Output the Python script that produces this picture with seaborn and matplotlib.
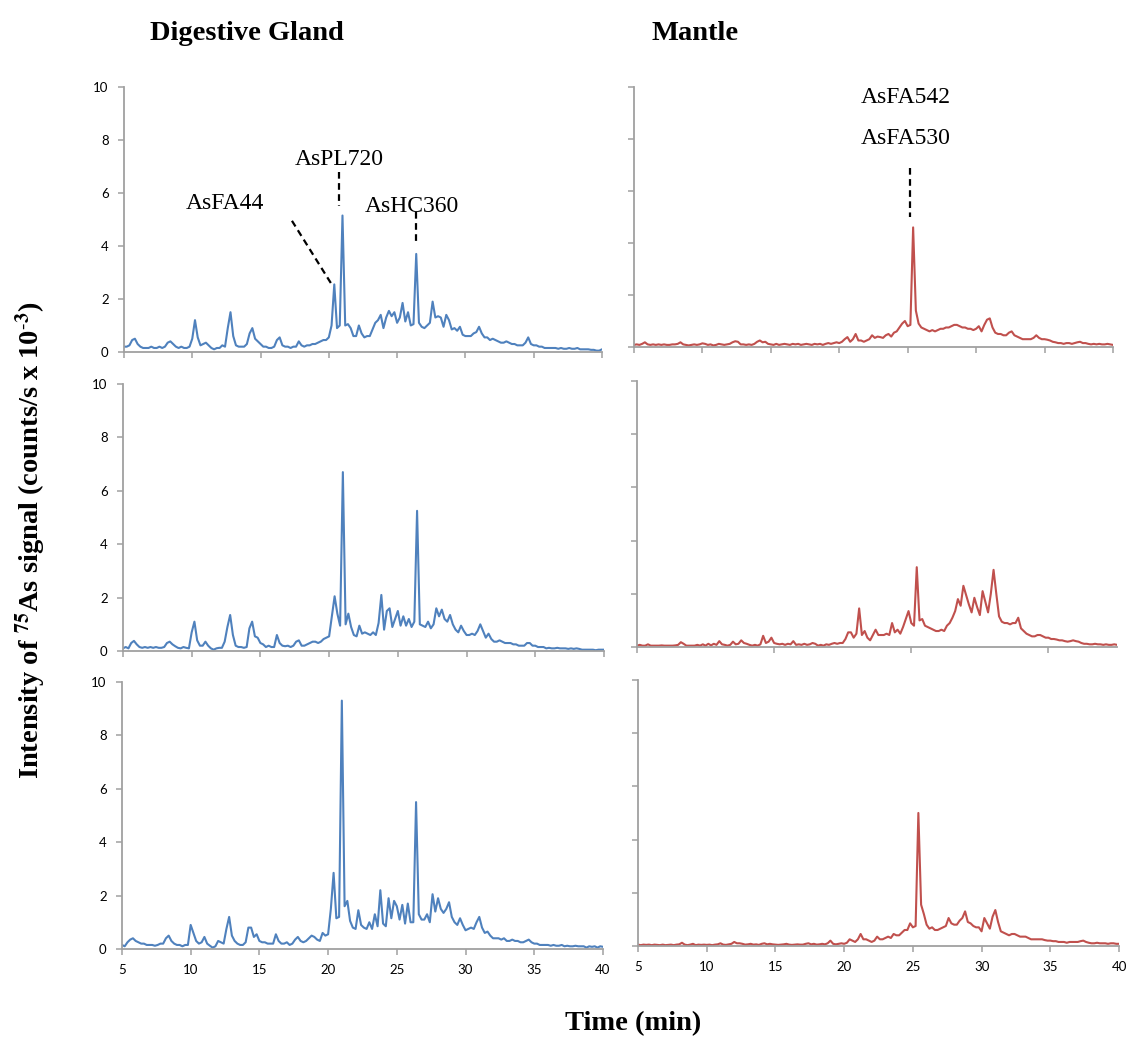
import numpy as np
import matplotlib
matplotlib.use('Agg')
import matplotlib.pyplot as plt
import seaborn as sns

######################################
### Data (0.2 min steps from 5 to 40 min)

rt = np.round(np.arange(5, 40.01, 0.2), 1)

# Digestive gland, replicate 1-3 (x 10^3 counts/s)
dg1 = [0.2, 0.2, 0.25, 0.45, 0.5, 0.3, 0.2, 0.15, 0.15, 0.15,         # 5
       0.2, 0.15, 0.15, 0.2, 0.15, 0.2, 0.35, 0.4, 0.3, 0.2,          # 7
       0.15, 0.2, 0.15, 0.15, 0.2, 0.5, 1.2, 0.55, 0.25, 0.3,         # 9
       0.35, 0.25, 0.15, 0.1, 0.15, 0.15, 0.25, 0.2, 0.9, 1.5,        # 11
       0.6, 0.25, 0.2, 0.2, 0.2, 0.3, 0.7, 0.9, 0.5, 0.4,             # 13
       0.3, 0.2, 0.2, 0.15, 0.15, 0.2, 0.45, 0.55, 0.25, 0.2,         # 15
       0.2, 0.15, 0.2, 0.2, 0.4, 0.25, 0.2, 0.25, 0.25, 0.3,          # 17
       0.3, 0.35, 0.4, 0.45, 0.45, 0.55, 1.0, 2.55, 0.9, 1.0,         # 19
       5.15, 1.0, 1.05, 0.9, 0.6, 0.6, 1.0, 0.7, 0.55, 0.6,           # 21
       0.6, 0.85, 1.1, 1.2, 1.4, 0.9, 1.3, 1.55, 1.35, 1.5,           # 23
       1.1, 1.3, 1.85, 1.15, 1.5, 1.0, 1.05, 3.7, 1.1, 0.95,          # 25
       0.9, 1.0, 1.1, 1.9, 1.3, 1.35, 1.3, 0.95, 1.4, 1.2,            # 27
       0.85, 0.9, 0.8, 0.95, 0.65, 0.6, 0.6, 0.6, 0.7, 0.75,          # 29
       0.95, 0.7, 0.55, 0.55, 0.45, 0.5, 0.45, 0.4, 0.35, 0.35,       # 31
       0.4, 0.35, 0.3, 0.3, 0.25, 0.25, 0.25, 0.35, 0.55, 0.3,        # 33
       0.25, 0.25, 0.2, 0.2, 0.15, 0.15, 0.15, 0.15, 0.15, 0.12,      # 35
       0.15, 0.12, 0.12, 0.15, 0.12, 0.12, 0.15, 0.1, 0.1, 0.1,       # 37
       0.1, 0.08, 0.08, 0.05, 0.05, 0.1]                              # 39

dg2 = [0.1, 0.15, 0.1, 0.3, 0.38, 0.25, 0.15, 0.12, 0.15, 0.12,
       0.15, 0.12, 0.15, 0.12, 0.12, 0.15, 0.3, 0.35, 0.25, 0.18,
       0.12, 0.1, 0.15, 0.12, 0.1, 0.7, 1.1, 0.4, 0.2, 0.2,
       0.35, 0.2, 0.1, 0.05, 0.1, 0.12, 0.12, 0.35, 0.9, 1.35,
       0.6, 0.2, 0.15, 0.15, 0.12, 0.15, 0.85, 1.1, 0.55, 0.5,
       0.3, 0.25, 0.15, 0.2, 0.15, 0.15, 0.6, 0.3, 0.2, 0.18,
       0.2, 0.15, 0.2, 0.35, 0.4, 0.2, 0.2, 0.25, 0.3, 0.35,
       0.35, 0.3, 0.35, 0.45, 0.5, 0.55, 1.3, 2.05, 1.4, 0.95,
       6.7, 1.0, 1.4, 0.9, 0.6, 0.55, 0.95, 0.65, 0.7, 0.65,
       0.6, 0.7, 0.6, 1.05, 2.1, 0.8, 1.5, 1.6, 0.9, 1.2,
       1.5, 0.95, 1.3, 0.95, 1.2, 0.9, 1.1, 5.25, 1.0, 0.95,
       0.9, 1.1, 0.85, 1.0, 1.6, 1.3, 1.55, 1.2, 1.1, 1.35,
       1.0, 0.8, 0.7, 0.95, 0.75, 0.6, 0.6, 0.65, 0.6, 0.75,
       1.0, 0.75, 0.5, 0.65, 0.45, 0.35, 0.35, 0.4, 0.35, 0.3,
       0.3, 0.3, 0.25, 0.25, 0.2, 0.2, 0.2, 0.3, 0.3, 0.2,
       0.2, 0.15, 0.15, 0.15, 0.1, 0.12, 0.1, 0.1, 0.12, 0.1,
       0.1, 0.1, 0.08, 0.1, 0.08, 0.1, 0.08, 0.05, 0.05, 0.05,
       0.05, 0.05, 0.03, 0.05, 0.05, 0.05]

dg3 = [0.15, 0.1, 0.25, 0.35, 0.4, 0.3, 0.25, 0.2, 0.2, 0.15,
       0.15, 0.15, 0.12, 0.15, 0.2, 0.2, 0.4, 0.5, 0.3, 0.2,
       0.15, 0.15, 0.1, 0.15, 0.15, 0.9, 0.6, 0.3, 0.2, 0.25,
       0.45, 0.2, 0.12, 0.05, 0.1, 0.3, 0.25, 0.2, 0.75, 1.2,
       0.5, 0.3, 0.2, 0.15, 0.15, 0.25, 0.8, 0.8, 0.45, 0.55,
       0.3, 0.25, 0.25, 0.2, 0.2, 0.2, 0.55, 0.3, 0.2, 0.2,
       0.25, 0.15, 0.2, 0.35, 0.45, 0.3, 0.25, 0.3, 0.4, 0.5,
       0.45, 0.35, 0.3, 0.6, 0.5, 0.55, 1.5, 2.85, 1.15, 1.2,
       9.3, 1.6, 1.8, 1.05, 0.8, 0.75, 1.45, 0.9, 0.8, 0.75,
       1.0, 0.75, 1.3, 0.85, 2.2, 0.95, 0.85, 1.9, 1.15, 1.8,
       1.6, 1.1, 1.65, 0.95, 1.7, 1.0, 1.0, 5.5, 1.3, 1.1,
       1.1, 1.3, 1.0, 2.05, 1.4, 1.9, 1.5, 1.35, 1.5, 1.75,
       1.2, 1.0, 0.9, 1.15, 0.9, 0.7, 0.75, 0.8, 0.75, 1.0,
       1.2, 0.8, 0.6, 0.65, 0.5, 0.4, 0.4, 0.4, 0.35, 0.4,
       0.3, 0.3, 0.35, 0.3, 0.3, 0.25, 0.25, 0.3, 0.35, 0.25,
       0.2, 0.2, 0.15, 0.15, 0.15, 0.15, 0.12, 0.15, 0.12, 0.12,
       0.15, 0.1, 0.12, 0.1, 0.1, 0.12, 0.1, 0.1, 0.1, 0.05,
       0.1, 0.08, 0.1, 0.05, 0.1, 0.08]

# Mantle, replicate 1-3
mt1 = [0.08, 0.1, 0.08, 0.12, 0.18, 0.1, 0.08, 0.1, 0.08, 0.1,
       0.08, 0.1, 0.08, 0.08, 0.1, 0.1, 0.12, 0.18, 0.1, 0.08,
       0.06, 0.08, 0.1, 0.08, 0.1, 0.14, 0.12, 0.08, 0.1, 0.06,
       0.08, 0.12, 0.1, 0.08, 0.1, 0.12, 0.18, 0.22, 0.2, 0.1,
       0.1, 0.08, 0.1, 0.08, 0.12, 0.2, 0.25, 0.18, 0.2, 0.12,
       0.1, 0.08, 0.12, 0.08, 0.1, 0.12, 0.1, 0.08, 0.12, 0.1,
       0.12, 0.08, 0.1, 0.12, 0.1, 0.08, 0.12, 0.1, 0.12, 0.08,
       0.12, 0.15, 0.12, 0.15, 0.18, 0.15, 0.2, 0.3, 0.38, 0.2,
       0.3, 0.5, 0.25, 0.25, 0.2, 0.25, 0.3, 0.45, 0.35, 0.4,
       0.38, 0.35, 0.45, 0.5, 0.4, 0.55, 0.6, 0.75, 0.9, 1.0,
       0.8, 0.85, 4.6, 1.4, 0.9, 0.75, 0.7, 0.65, 0.6, 0.65,
       0.6, 0.65, 0.7, 0.7, 0.75, 0.75, 0.8, 0.85, 0.85, 0.8,
       0.75, 0.75, 0.7, 0.7, 0.65, 0.7, 0.8, 0.6, 0.85, 1.05,
       1.1, 0.75, 0.55, 0.5, 0.5, 0.45, 0.45, 0.55, 0.6, 0.45,
       0.4, 0.35, 0.3, 0.3, 0.3, 0.3, 0.35, 0.45, 0.35, 0.3,
       0.3, 0.28, 0.25, 0.2, 0.18, 0.15, 0.15, 0.12, 0.15, 0.15,
       0.12, 0.15, 0.18, 0.2, 0.15, 0.15, 0.12, 0.1, 0.12, 0.1,
       0.12, 0.1, 0.1, 0.12, 0.1, 0.08]

mt2 = [0.05, 0.08, 0.05, 0.05, 0.1, 0.05, 0.05, 0.05, 0.05, 0.06,
       0.05, 0.05, 0.05, 0.05, 0.06, 0.08, 0.18, 0.12, 0.05, 0.05,
       0.05, 0.05, 0.08, 0.05, 0.1, 0.05, 0.12, 0.06, 0.12, 0.08,
       0.22, 0.1, 0.08, 0.05, 0.08, 0.2, 0.1, 0.12, 0.25, 0.15,
       0.12, 0.08, 0.05, 0.08, 0.05, 0.1, 0.42, 0.15, 0.2, 0.35,
       0.15, 0.12, 0.1, 0.12, 0.08, 0.12, 0.1, 0.22, 0.08, 0.1,
       0.08, 0.12, 0.08, 0.1, 0.15, 0.12, 0.05, 0.08, 0.05, 0.1,
       0.08, 0.12, 0.15, 0.12, 0.15, 0.15, 0.3, 0.55, 0.55, 0.35,
       0.5, 1.45, 0.45, 0.6, 0.35, 0.25, 0.45, 0.65, 0.45, 0.45,
       0.45, 0.5, 0.45, 0.9, 0.55, 0.65, 0.5, 0.75, 1.05, 1.35,
       0.9, 0.8, 3.0, 1.0, 1.05, 0.8, 0.75, 0.7, 0.65, 0.6,
       0.6, 0.65, 0.6, 0.8, 0.9, 1.1, 1.35, 1.8, 1.55, 2.3,
       1.95, 1.6, 1.3, 1.85, 1.5, 1.2, 2.1, 1.7, 1.3, 2.0,
       2.9, 2.0, 1.15, 0.95, 0.9, 0.9, 0.85, 0.9, 0.9, 1.1,
       0.7, 0.6, 0.5, 0.45, 0.4, 0.4, 0.45, 0.45, 0.4, 0.35,
       0.35, 0.3, 0.3, 0.28, 0.25, 0.25, 0.22, 0.2, 0.22, 0.25,
       0.22, 0.2, 0.15, 0.12, 0.12, 0.1, 0.1, 0.12, 0.1, 0.1,
       0.08, 0.1, 0.08, 0.08, 0.1, 0.08]

mt3 = [0.05, 0.03, 0.05, 0.04, 0.05, 0.03, 0.05, 0.04, 0.03, 0.05,
       0.03, 0.04, 0.05, 0.03, 0.05, 0.06, 0.12, 0.05, 0.03, 0.05,
       0.08, 0.03, 0.05, 0.04, 0.05, 0.04, 0.05, 0.03, 0.05, 0.06,
       0.1, 0.05, 0.04, 0.06, 0.08, 0.15, 0.1, 0.1, 0.08, 0.05,
       0.06, 0.08, 0.05, 0.06, 0.04, 0.08, 0.1, 0.06, 0.08, 0.06,
       0.05, 0.04, 0.05, 0.06, 0.08, 0.05, 0.04, 0.05, 0.06, 0.05,
       0.05, 0.08, 0.1, 0.06, 0.08, 0.05, 0.06, 0.08, 0.06, 0.1,
       0.2, 0.08, 0.06, 0.08, 0.1, 0.08, 0.12, 0.25, 0.2, 0.15,
       0.25, 0.45, 0.25, 0.25, 0.2, 0.15, 0.2, 0.35, 0.25, 0.25,
       0.3, 0.35, 0.3, 0.45, 0.4, 0.4, 0.5, 0.6, 0.6, 0.85,
       0.7, 0.75, 5.0, 1.55, 1.2, 0.8, 0.65, 0.7, 0.6, 0.6,
       0.65, 0.7, 0.75, 1.05, 0.85, 0.8, 0.8, 0.95, 1.05, 1.3,
       0.9, 0.85, 0.75, 0.7, 0.7, 0.55, 1.05, 0.85, 0.65, 1.1,
       1.35, 0.9, 0.55, 0.5, 0.45, 0.4, 0.45, 0.45, 0.4, 0.35,
       0.35, 0.35, 0.3, 0.25, 0.25, 0.25, 0.25, 0.25, 0.22, 0.2,
       0.2, 0.18, 0.18, 0.15, 0.15, 0.15, 0.12, 0.15, 0.15, 0.15,
       0.15, 0.18, 0.2, 0.15, 0.12, 0.1, 0.1, 0.12, 0.1, 0.1,
       0.1, 0.08, 0.1, 0.1, 0.08, 0.08]

## peak labels (text x, text y, dashed line x0, y0, x1, y1)
dg_labels = [('AsFA44', 9.5, 5.6, 17.3, 4.95, 20.15, 2.6),
             ('AsPL720', 17.5, 7.25, 20.75, 6.8, 20.75, 5.5),
             ('AsHC360', 22.6, 5.5, 26.4, 5.3, 26.4, 4.05)]
mt_labels = [('AsFA542', 21.6, 9.6), ('AsFA530', 21.6, 8.0)]
mt_line = (25.2, 6.9, 25.2, 5.0)

blue = '#4F81BD'
red = '#C0504D'
spine_col = '#A0A0A0'

#####################################
### Plot

sns.set_style('white')
plt.rcParams['font.family'] = ['Lato', 'DejaVu Sans']
plt.rcParams['mathtext.fontset'] = 'stix'
plt.rcParams['text.color'] = 'black'

fig = plt.figure(figsize=(11.26, 10.37), dpi=100)

# axes positions in figure fractions [left, bottom, width, height]
pos_left = [[0.1101, 0.6606, 0.4245, 0.2555],
            [0.1092, 0.3722, 0.4272, 0.2575],
            [0.1083, 0.0849, 0.4272, 0.2575]]
pos_right = [[0.5630, 0.6654, 0.4254, 0.2507],
             [0.5657, 0.3761, 0.4263, 0.2565],
             [0.5666, 0.0878, 0.4272, 0.2565]]

panels = [(pos_left[0], dg1, blue, True, np.arange(5, 41, 5), False),
          (pos_left[1], dg2, blue, True, np.arange(5, 41, 5), False),
          (pos_left[2], dg3, blue, True, np.arange(5, 41, 5), True),
          (pos_right[0], mt1, red, False, np.arange(5, 41, 5), False),
          (pos_right[1], mt2, red, False, np.arange(5, 41, 10), False),
          (pos_right[2], mt3, red, False, np.arange(5, 41, 5), True)]

axes = []
for pos, vals, col, ylab, xt, xlab in panels:
    ax = fig.add_axes(pos)
    sns.lineplot(x=rt, y=vals, ax=ax, color=col, lw=1.5, estimator=None)
    ax.set_xlim(5, 40)
    ax.set_ylim(0, 10)
    ax.set_xticks(xt)
    ax.set_yticks(np.arange(0, 11, 2))
    sns.despine(ax=ax)
    for s in ['left', 'bottom']:
        ax.spines[s].set_color(spine_col)
        ax.spines[s].set_linewidth(1.3)
    ax.tick_params(axis='both', direction='out', length=4, width=1.1, color=spine_col,
                   labelsize=9.5, labelcolor='black', pad=7)
    ax.tick_params(axis='y', left=True)
    ax.tick_params(axis='x', bottom=True)
    if not ylab:
        ax.set_yticklabels([])
    if not xlab:
        ax.set_xticklabels([])
    ax.set_xlabel('')
    ax.set_ylabel('')
    axes.append(ax)

## annotations
ann_font = dict(family='Liberation Serif', fontsize=17, color='black')
ax = axes[0]
for lab, tx, ty, x0, y0, x1, y1 in dg_labels:
    ax.text(tx, ty, lab, ha='left', va='center', **ann_font)
    ax.plot([x0, x1], [y0, y1], color='black', lw=1.6, ls=(0, (3, 2)))

ax = axes[3]
for lab, tx, ty in mt_labels:
    ax.text(tx, ty, lab, ha='left', va='center', **ann_font)
ax.plot([mt_line[0], mt_line[2]], [mt_line[1], mt_line[3]], color='black', lw=1.6, ls=(0, (3, 2)))

## titles and axis labels
title_font = dict(family='Liberation Serif', fontsize=20.5, fontweight='bold', color='black')
fig.text(150 / 1126, 1 - 40 / 1037, 'Digestive Gland', ha='left', va='baseline', **title_font)
fig.text(652 / 1126, 1 - 40 / 1037, 'Mantle', ha='left', va='baseline', **title_font)
fig.text(633 / 1126, 1 - 1030 / 1037, 'Time (min)', ha='center', va='baseline', **title_font)
fig.text(0.027, 0.479, r'Intensity of $^{\mathbf{75}}$As signal (counts/s x 10$^{\text{-}\mathbf{3}}$)',
         rotation=90, ha='center', va='center', **title_font)

fig.savefig('out.png', dpi=100)
